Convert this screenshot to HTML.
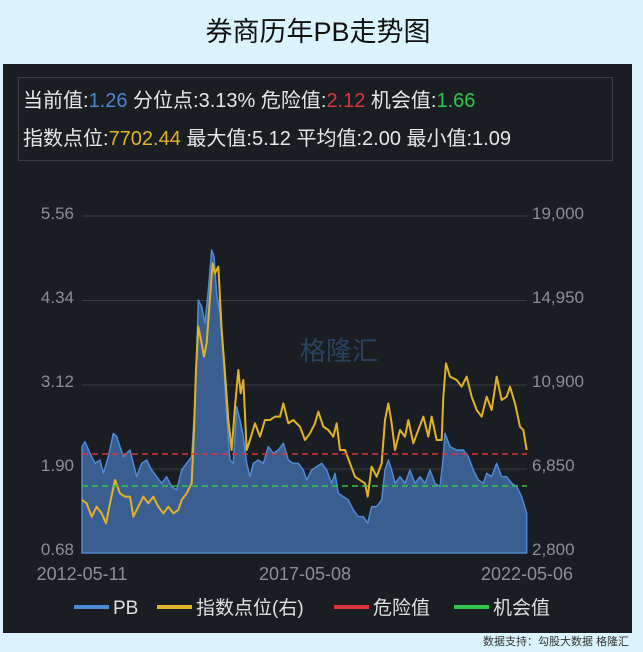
<!DOCTYPE html>
<html><head><meta charset="utf-8"><style>
body{margin:0;width:643px;height:652px;background:#daf3fd;overflow:hidden;font-family:"Liberation Sans","Noto Sans CJK SC",sans-serif;position:relative}
.t{position:absolute;white-space:nowrap}
</style></head><body>
<div class="t" style="left:0;width:636px;top:10px;text-align:center;font-size:27px;color:#111;">券商历年PB走势图</div>
<div style="position:absolute;left:3px;top:64px;width:629px;height:569px;background:#1a1d21;"></div>
<div style="position:absolute;left:18px;top:77px;width:593px;height:82px;border:1px solid #3a3f45;"></div>
<div class="t" style="left:23px;top:84px;font-size:20px;color:#e8e8e8">当前值:<span style="color:#4f86d0">1.26</span> 分位点:3.13% 危险值:<span style="color:#d9363a">2.12</span> 机会值:<span style="color:#2fc84a">1.66</span></div>
<div class="t" style="left:23px;top:122px;font-size:20px;color:#e8e8e8">指数点位:<span style="color:#e2b22a">7702.44</span> 最大值:5.12 平均值:2.00 最小值:1.09</div>
<svg width="643" height="652" style="position:absolute;left:0;top:0">
<g stroke="#3a3e44" stroke-width="1">
<line x1="82" x2="527" y1="216" y2="216"/><line x1="82" x2="527" y1="300.5" y2="300.5"/><line x1="82" x2="527" y1="385" y2="385"/><line x1="82" x2="527" y1="469" y2="469"/>
</g>
<text x="300" y="360" font-size="26" fill="#2a4260" font-family="Liberation Sans, Noto Sans CJK SC, sans-serif">格隆汇</text>
<text x="330" y="360" font-size="26" fill="#22364f" font-family="Liberation Sans, Noto Sans CJK SC, sans-serif" dx="0"></text>
<text x="330" y="360" font-size="1"> </text>
<text x="331" y="360" font-size="26" fill="#22364f" font-family="Liberation Sans, Noto Sans CJK SC, sans-serif" transform="translate(0,0)"></text>
<g font-size="17" fill="#8a9097" font-family="Liberation Sans, sans-serif">
<text x="74" y="219" text-anchor="end">5.56</text><text x="74" y="303" text-anchor="end">4.34</text><text x="74" y="387" text-anchor="end">3.12</text><text x="74" y="471" text-anchor="end">1.90</text><text x="74" y="555" text-anchor="end">0.68</text>
<text x="532" y="219">19,000</text><text x="532" y="303">14,950</text><text x="532" y="387">10,900</text><text x="532" y="471">6,850</text><text x="532" y="555">2,800</text>
<text x="82" y="580" text-anchor="middle" font-size="18">2012-05-11</text><text x="305" y="580" text-anchor="middle" font-size="18">2017-05-08</text><text x="527" y="580" text-anchor="middle" font-size="18">2022-05-06</text>
</g>
<g transform="translate(70,230) scale(0.33333)">
<polygon fill="#3a5e8f" stroke="#4f8ad6" stroke-width="1.5" vector-effect="non-scaling-stroke" stroke-linejoin="round" points="36,969 36,650 45,635 60,670 75,700 90,690 100,730 115,680 130,610 140,620 150,650 160,680 170,670 180,660 190,700 200,740 215,700 230,690 245,720 260,740 275,760 290,740 305,770 320,780 335,720 350,700 365,680 375,520 385,210 395,230 405,280 415,180 425,60 432,80 440,190 450,250 460,380 470,560 480,690 490,700 500,530 510,570 520,620 530,700 540,740 550,700 565,690 580,700 595,650 610,670 625,660 640,640 655,690 670,700 685,700 700,720 710,750 725,720 740,710 755,700 770,720 785,760 795,730 805,790 820,800 835,810 850,840 865,860 880,860 893,880 905,830 920,830 935,810 945,720 955,690 965,720 975,760 990,740 1005,760 1020,720 1035,760 1050,740 1065,760 1080,720 1095,760 1110,770 1120,680 1125,610 1140,650 1160,660 1180,660 1195,680 1210,720 1225,750 1240,760 1250,730 1265,740 1280,700 1295,740 1310,740 1325,760 1340,770 1355,800 1370,850 1370,969"/>
<polyline fill="none" stroke="#e2b22a" stroke-width="2" vector-effect="non-scaling-stroke" stroke-linejoin="round" points="36,810 50,820 65,860 80,830 95,850 108,880 120,820 135,750 150,790 165,800 180,800 190,860 205,830 220,800 235,820 250,800 265,830 280,850 295,830 310,850 325,840 335,810 350,790 365,760 372,600 378,420 385,290 395,340 402,380 410,340 420,200 428,100 435,130 445,110 455,300 465,430 475,570 485,660 495,530 505,420 512,490 520,450 530,660 540,630 555,580 570,620 585,570 600,570 615,560 630,560 640,520 655,580 670,570 690,590 705,630 720,610 735,580 745,545 760,590 775,600 790,620 800,580 810,660 825,660 840,700 855,740 870,750 885,760 893,800 905,710 920,740 935,700 945,570 955,520 965,580 975,660 990,600 1005,620 1015,570 1030,640 1045,600 1060,560 1075,620 1085,560 1100,630 1115,630 1120,500 1128,400 1140,440 1160,450 1175,470 1190,440 1205,500 1220,540 1235,560 1250,500 1265,540 1280,440 1295,510 1310,500 1320,470 1335,520 1350,590 1360,600 1370,660"/>
</g>
<line x1="82" x2="527" y1="454" y2="454" stroke="#d9363a" stroke-width="1.5" stroke-dasharray="6,4"/>
<line x1="82" x2="527" y1="486" y2="486" stroke="#2fc84a" stroke-width="1.5" stroke-dasharray="6,4"/>
<g font-size="19" fill="#e0e0e0" font-family="Liberation Sans, Noto Sans CJK SC, sans-serif">
<rect x="74" y="605" width="35" height="4" fill="#4f8ad6"/><text x="113" y="614">PB</text>
<rect x="157" y="605" width="35" height="4" fill="#e2b22a"/><text x="196" y="614">指数点位(右)</text>
<rect x="334" y="605" width="35" height="4" fill="#d9363a"/><text x="373" y="614">危险值</text>
<rect x="454" y="605" width="35" height="4" fill="#2fc84a"/><text x="493" y="614">机会值</text>
</g>
<text x="483" y="645" font-size="11" fill="#333" font-family="Liberation Sans, Noto Sans CJK SC, sans-serif">数据支持：勾股大数据 格隆汇</text>
</svg>
</body></html>
